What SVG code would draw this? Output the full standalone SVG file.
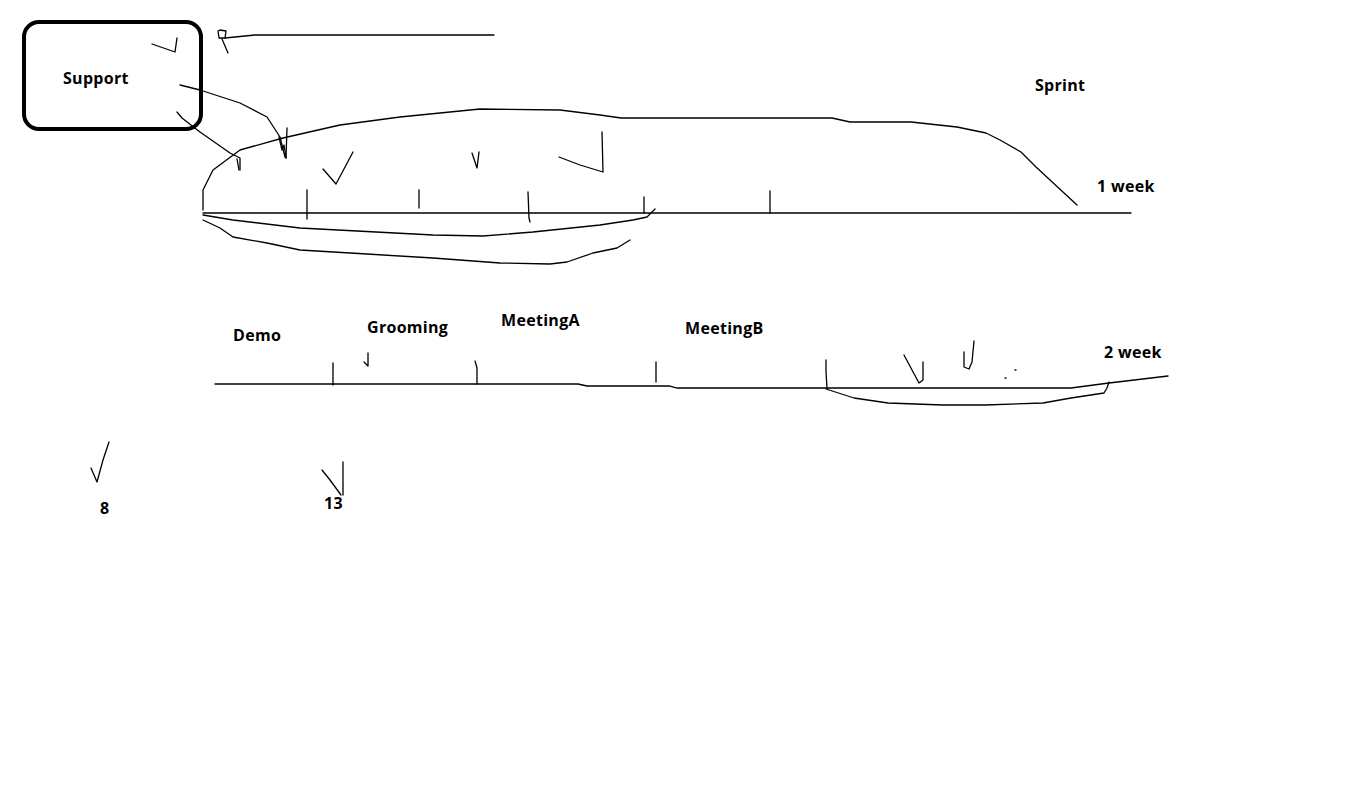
<svg xmlns="http://www.w3.org/2000/svg" width="1363" height="799" viewBox="0 0 1363 799">
<style>
.s{fill:none;stroke:#000;stroke-width:1.3;stroke-linejoin:round;stroke-linecap:round}
.t{font-family:"Open Sans","Liberation Sans",sans-serif;font-weight:bold;font-size:16px;letter-spacing:0.3px;fill:#000}
</style>
<rect width="1363" height="799" fill="#fff"/>
<g id="support">
<rect x="24" y="22" width="177" height="107" rx="15" fill="none" stroke="#000" stroke-width="4"/>
<text class="t" x="63" y="84">Support</text>
</g>
<g id="sprint"><text class="t" x="1035" y="91">Sprint</text></g>
<g id="week1"><text class="t" x="1097" y="192">1 week</text></g>
<g id="demo"><text class="t" x="233" y="341">Demo</text></g>
<g id="grooming"><text class="t" x="367" y="333">Grooming</text></g>
<g id="meetingA"><text class="t" x="501" y="326">MeetingA</text></g>
<g id="meetingB"><text class="t" x="685" y="334">MeetingB</text></g>
<g id="week2"><text class="t" x="1104" y="358">2 week</text></g>
<g id="n8"><text class="t" x="100" y="514">8</text></g>
<g id="n13"><text class="t" x="324" y="509">13</text></g>
<g id="connectors">
<path class="s" d="M152,44 L175,52 L177,38"/>
<path class="s" d="M220,30 L226,31 L225,38 L219,38 L218,31 Z"/>
<path class="s" d="M225,38 L255,35 L494,35"/>
<path class="s" d="M222,39 L228,53"/>
<path class="s" d="M180,85 L200,90 L240,103 L267,117 L280,137 L285,157"/>
<path class="s" d="M279,137 L282,150 L284,145 L286,158"/>
<path class="s" d="M287,128 L286,158"/>
<path class="s" d="M177,112 L182,118 L200,132 L230,153 L240,158 L240,170"/>
<path class="s" d="M237,159 L239,170"/>
<path class="s" d="M203,210 L203,190 L213,170 L240,150 L283,138 L340,125 L400,117 L480,109 L560,110 L600,115 L621,118 L832,118 L850,122 L911,122 L957,127 L986,133 L1000,140 L1021,152 L1036,167 L1077,205"/>
<path class="s" d="M203,213 L1131,213"/>
<path class="s" d="M307,190 L307,219"/>
<path class="s" d="M419,190 L419,208"/>
<path class="s" d="M528,192 L529,218 L530,222"/>
<path class="s" d="M644,197 L644,213"/>
<path class="s" d="M770,191 L770,213"/>
<path class="s" d="M323,169 L336,184 L353,152"/>
<path class="s" d="M472,153 L477,168 L479,152"/>
<path class="s" d="M559,157 L580,165 L603,172 L602,132"/>
<path class="s" d="M203,215 L233,220 L300,228 L433,235 L483,236 L533,232 L600,225 L633,220 L647,217 L655,209"/>
<path class="s" d="M203,220 L220,228 L233,237 L267,243 L300,250 L367,254 L433,258 L500,263 L550,264 L567,262 L593,253 L617,248 L630,240"/>
<path class="s" d="M215,384 L578,384 L587,386 L670,386 L677,388 L826,388 L1071,388 L1109,383 L1168,376"/>
<path class="s" d="M333,363 L333,385"/>
<path class="s" d="M475,361 L477,368 L477,384"/>
<path class="s" d="M656,362 L656,382"/>
<path class="s" d="M826,360 L826,372 L827,388"/>
<path class="s" d="M364,362 L368,366 L368,353"/>
<path class="s" d="M904,355 L912,370 L919,383 L923,380 L923,362"/>
<path class="s" d="M964,352 L964,367 L969,369 L972,362 L974,341"/>
<path class="s" d="M1015,370 L1016,370"/>
<path class="s" d="M1005,378 L1006,378"/>
<path class="s" d="M826,389 L854,398 L888,403 L943,405 L985,405 L1043,403 L1071,398 L1104,393 L1107,388 L1109,382"/>
<path class="s" d="M91,468 L97,482 L103,460 L109,442"/>
<path class="s" d="M322,470 L330,480 L341,495"/>
<path class="s" d="M343,462 L343,495"/>
</g>
</svg>
